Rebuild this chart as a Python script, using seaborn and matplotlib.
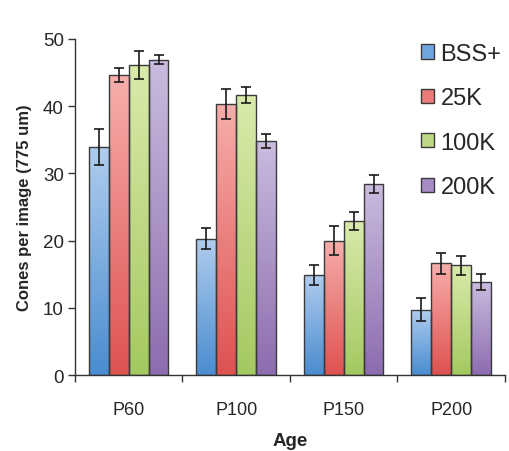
import matplotlib
matplotlib.use("Agg")
import matplotlib.pyplot as plt
from matplotlib.colors import LinearSegmentedColormap
import numpy as np
import pandas as pd
import seaborn as sns

ages = ["P60", "P100", "P150", "P200"]
groups = ["BSS+", "25K", "100K", "200K"]
means = {
    "BSS+": [33.9, 20.3, 14.9, 9.7],
    "25K": [44.6, 40.3, 20.0, 16.6],
    "100K": [46.1, 41.6, 22.9, 16.3],
    "200K": [46.9, 34.8, 28.4, 13.9],
}
errors = {
    "BSS+": [2.7, 1.5, 1.5, 1.7],
    "25K": [1.1, 2.2, 2.2, 1.6],
    "100K": [2.1, 1.2, 1.3, 1.4],
    "200K": [0.7, 1.0, 1.4, 1.2],
}
# light top / darker bottom, Excel-like gradient
colors_top = ["#b0cdee", "#f7aeac", "#d9eaab", "#cabcdf"]
colors_bottom = ["#4a8cd0", "#de5250", "#a4c960", "#8c6caf"]
colors_legend = ["#6fa6e0", "#ec7a78", "#bcd884", "#a68cc6"]

rows = []
for g in groups:
    for a, m, e in zip(ages, means[g], errors[g]):
        rows.append({"Age": a, "Group": g, "Mean": m, "Err": e})
df = pd.DataFrame(rows)

sns.set_style("white")
plt.rcParams["font.family"] = ["Liberation Sans", "DejaVu Sans"]

fig = plt.figure(figsize=(5.10, 4.52), dpi=100)
ax = fig.add_axes([0.147, 0.168, 0.843, 0.744])

sns.barplot(data=df, x="Age", y="Mean", hue="Group",
            palette=colors_legend, errorbar=None, width=0.74,
            edgecolor="#3a3a3a", linewidth=1.0, ax=ax, legend=False)

n_age = len(ages)
for i, patch in enumerate(ax.patches[: n_age * len(groups)]):
    gi = i // n_age
    ai = i % n_age
    cmap = LinearSegmentedColormap.from_list(
        f"g{gi}", [colors_bottom[gi], colors_top[gi]])
    x0, y0 = patch.get_x(), patch.get_y()
    w, h = patch.get_width(), patch.get_height()
    grad = np.linspace(0, 1, 256).reshape(-1, 1)
    im = ax.imshow(grad, cmap=cmap, origin="lower", aspect="auto",
                   extent=(x0, x0 + w, y0, y0 + h), zorder=patch.get_zorder())
    im.set_clip_path(patch)
    patch.set_facecolor("none")
    patch.set_zorder(patch.get_zorder() + 0.1)
    g = groups[gi]
    ax.errorbar(x0 + w / 2, means[g][ai], yerr=errors[g][ai], fmt="none",
                ecolor="#1a1a1a", elinewidth=1.2, capsize=3.5, capthick=1.2,
                zorder=5)

ax.set_xlim(-0.5, n_age - 0.5)
ax.set_ylim(0, 50)
ax.set_yticks(range(0, 51, 10))
ax.set_xticks(np.arange(-0.5, n_age, 1.0))
ax.set_xticklabels([])
ax.set_xticks(range(n_age), minor=True)
ax.set_xticklabels(ages, minor=True)
ax.tick_params(axis="x", which="major", bottom=True, direction="out",
               length=5, width=1, color="#333333")
ax.tick_params(axis="x", which="minor", bottom=False, length=0,
               labelsize=13, pad=19)
ax.tick_params(axis="y", left=True, direction="out", length=5, width=1,
               color="#333333", labelsize=13.5, pad=3)
for side in ["top", "right"]:
    ax.spines[side].set_visible(False)
for side in ["left", "bottom"]:
    ax.spines[side].set_color("#333333")
    ax.spines[side].set_linewidth(1.0)

ax.set_xlabel("Age", fontsize=13.5, fontweight="bold", labelpad=10)
ax.set_ylabel("Cones per image (775 um)", fontsize=12, fontweight="bold",
              labelpad=8)

handles = [plt.Rectangle((0, 0), 1, 1, facecolor=c, edgecolor="#3a3a3a",
                         linewidth=1.0) for c in colors_legend]
ax.legend(handles, groups, loc="upper right", bbox_to_anchor=(1.025, 1.03),
          frameon=False, fontsize=17, handlelength=0.55, handleheight=0.55,
          handletextpad=0.3, labelspacing=0.95, borderaxespad=0.2)

fig.savefig("out.png", dpi=100)
